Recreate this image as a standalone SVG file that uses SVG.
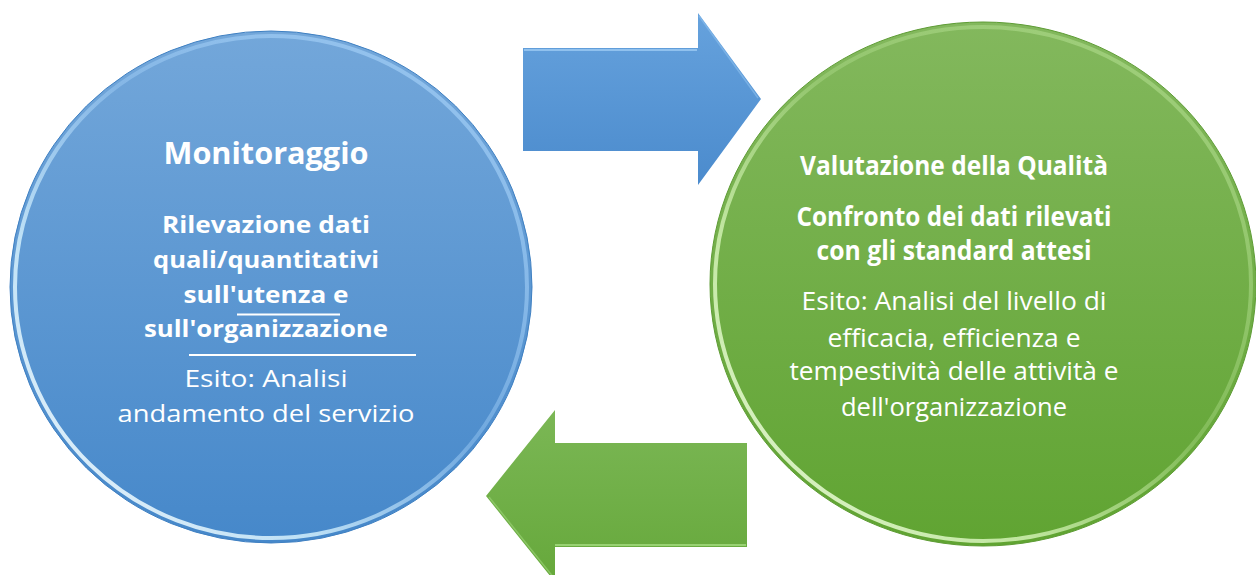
<svg xmlns="http://www.w3.org/2000/svg" width="1256" height="575" viewBox="0 0 1256 575">
  <defs>
    <linearGradient id="gBlue" x1="0" y1="0" x2="0" y2="1">
      <stop offset="0" stop-color="#73a7da"/>
      <stop offset="1" stop-color="#4688ca"/>
    </linearGradient>
    <linearGradient id="gGreen" x1="0" y1="0" x2="0" y2="1">
      <stop offset="0" stop-color="#83b85d"/>
      <stop offset="1" stop-color="#60a432"/>
    </linearGradient>
    <linearGradient id="gBlueArrow" x1="0" y1="0" x2="0" y2="1">
      <stop offset="0" stop-color="#66a2dd"/>
      <stop offset="1" stop-color="#4b8bcd"/>
    </linearGradient>
    <linearGradient id="gGreenArrow" x1="0" y1="0" x2="0" y2="1">
      <stop offset="0" stop-color="#7bb755"/>
      <stop offset="1" stop-color="#66a83b"/>
    </linearGradient>
    <linearGradient id="rimBlue" x1="0" y1="1" x2="1" y2="0">
      <stop offset="0" stop-color="#ffffff" stop-opacity="0.95"/>
      <stop offset="0.3" stop-color="#d8f4ff" stop-opacity="0.8"/>
      <stop offset="0.55" stop-color="#b0daff" stop-opacity="0.35"/>
      <stop offset="0.75" stop-color="#b0daff" stop-opacity="0.5"/>
      <stop offset="1" stop-color="#b0daff" stop-opacity="0.6"/>
    </linearGradient>
    <linearGradient id="rimGreen" x1="0" y1="1" x2="1" y2="0">
      <stop offset="0" stop-color="#f4ffe8" stop-opacity="0.95"/>
      <stop offset="0.3" stop-color="#d6f5b8" stop-opacity="0.8"/>
      <stop offset="0.55" stop-color="#c2eaa0" stop-opacity="0.3"/>
      <stop offset="0.75" stop-color="#c2eaa0" stop-opacity="0.4"/>
      <stop offset="1" stop-color="#c2eaa0" stop-opacity="0.5"/>
    </linearGradient>
  </defs>
  <style>
    .t { fill: #ffffff; font-family: "Open Sans", "Liberation Sans", sans-serif; text-anchor: middle; }
    .b { font-weight: 700; }
    .r { font-weight: 400; }
    .rule { stroke: #ffffff; stroke-width: 2; }
  </style>
  <rect width="1256" height="575" fill="#ffffff"/>

  <g id="connectors">
    <g id="arrow-right">
      <polygon points="523,48 698,48 698,13 761,99 698,185 698,151 523,151" fill="url(#gBlueArrow)"/>
      <polyline points="524,50 697,50" fill="none" stroke="#9ccbf3" stroke-width="2" opacity="0.8"/>
      <polyline points="699,16 758,98" fill="none" stroke="#8cc0ee" stroke-width="1.5" opacity="0.6"/>
    </g>
    <g id="arrow-left">
      <polygon points="747,443 555,443 555,410 486,496 555,582 555,547 747,547" fill="url(#gGreenArrow)"/>
      <polyline points="555,545 746,545" fill="none" stroke="#a5dc7f" stroke-width="2" opacity="0.8"/>
      <polyline points="489,497 554,578" fill="none" stroke="#9fd57a" stroke-width="1.5" opacity="0.6"/>
    </g>
  </g>

  <g id="node-monitoraggio">
    <ellipse cx="271" cy="287" rx="261" ry="256" fill="url(#gBlue)" stroke="#3f80c2" stroke-width="1"/>
    <ellipse cx="271" cy="287" rx="256" ry="251" fill="none" stroke="url(#rimBlue)" stroke-width="4"/>
    <text class="t b" x="266" y="164" font-size="30" textLength="205" lengthAdjust="spacingAndGlyphs">Monitoraggio</text>
    <text class="t b" x="266" y="233" font-size="23.5" textLength="208" lengthAdjust="spacingAndGlyphs">Rilevazione dati</text>
    <text class="t b" x="266" y="268" font-size="23.5" textLength="226" lengthAdjust="spacingAndGlyphs">quali/quantitativi</text>
    <text class="t b" x="266" y="303" font-size="23.5" textLength="165" lengthAdjust="spacingAndGlyphs">sull'utenza e</text>
    <text class="t b" x="266" y="337" font-size="23.5" textLength="244" lengthAdjust="spacingAndGlyphs">sull'organizzazione</text>
    <line class="rule" x1="237" y1="314.5" x2="340" y2="314.5" stroke-width="1.5"/>
    <line class="rule" x1="189" y1="355" x2="416" y2="355"/>
    <text class="t r" x="266" y="387" font-size="23.5" textLength="163" lengthAdjust="spacingAndGlyphs">Esito: Analisi</text>
    <text class="t r" x="266" y="422" font-size="23.5" textLength="297" lengthAdjust="spacingAndGlyphs">andamento del servizio</text>
  </g>

  <g id="node-valutazione">
    <ellipse cx="983" cy="284" rx="273" ry="262" fill="url(#gGreen)" stroke="#5e9c35" stroke-width="1"/>
    <ellipse cx="983" cy="284" rx="268" ry="257" fill="none" stroke="url(#rimGreen)" stroke-width="4"/>
    <text class="t b" x="954" y="175" font-size="27" textLength="308" lengthAdjust="spacingAndGlyphs">Valutazione della Qualità</text>
    <text class="t b" x="954" y="226" font-size="26" textLength="315" lengthAdjust="spacingAndGlyphs">Confronto dei dati rilevati</text>
    <text class="t b" x="954" y="260" font-size="26" textLength="275" lengthAdjust="spacingAndGlyphs">con gli standard attesi</text>
    <text class="t r" x="954" y="310" font-size="25.5" textLength="305" lengthAdjust="spacingAndGlyphs">Esito: Analisi del livello di</text>
    <text class="t r" x="954" y="347" font-size="25.5" textLength="253" lengthAdjust="spacingAndGlyphs">efficacia, efficienza e</text>
    <text class="t r" x="954" y="380" font-size="25.5" textLength="329" lengthAdjust="spacingAndGlyphs">tempestività delle attività e</text>
    <text class="t r" x="954" y="416" font-size="25.5" textLength="226" lengthAdjust="spacingAndGlyphs">dell'organizzazione</text>
  </g>
</svg>
